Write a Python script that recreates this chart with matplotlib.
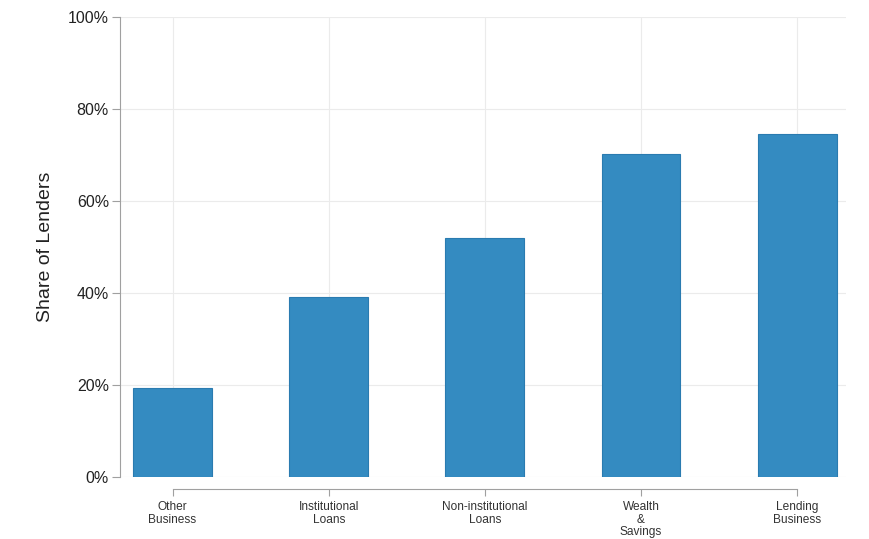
import numpy as np
import matplotlib.pyplot as plt
from matplotlib.ticker import PercentFormatter

plt.rcParams['font.family'] = ['Liberation Sans', 'DejaVu Sans']

# 数据
categories = ['Other\nBusiness', 'Institutional\nLoans', 'Non-institutional\nLoans',
              'Wealth\n&\nSavings', 'Lending\nBusiness']
shares = [0.193, 0.391, 0.520, 0.702, 0.745]
yticks = [0, 0.2, 0.4, 0.6, 0.8, 1.0]

fig = plt.figure(figsize=(8.7, 5.39), dpi=100)
ax = fig.add_axes([0.138, 0.115, 0.834, 0.853])

x = np.arange(len(categories))
ax.bar(x, shares, width=0.505, color='#348bc1', edgecolor='#2a7bb0', linewidth=0.8, zorder=3)

ax.set_xlim(-0.336, 4.31)
ax.set_ylim(0, 1.0)
ax.set_yticks(yticks)
ax.yaxis.set_major_formatter(PercentFormatter(1.0, decimals=0))
ax.set_xticks(x)
ax.set_xticklabels([''] * len(categories))

# 紧凑的多行类别标签（逐行绘制，行距更小）
trans = ax.get_xaxis_transform()
for xi, label in zip(x, categories):
    for k, line in enumerate(label.split('\n')):
        ax.annotate(line, xy=(xi, 0), xycoords=trans, xytext=(0, -21.8 - 9.0 * k),
                    textcoords='offset points', ha='center', va='center',
                    fontsize=8.6, color='#333333', annotation_clip=False)

ax.grid(True, color='#ebebeb', linewidth=0.8, zorder=0)
ax.set_axisbelow(True)

for s in ['top', 'right']:
    ax.spines[s].set_visible(False)
ax.spines['left'].set_color('#a0a0a0')
ax.spines['left'].set_bounds(0, 1.0)
ax.spines['bottom'].set_color('#a0a0a0')
ax.spines['bottom'].set_position(('outward', 8.5))
ax.spines['bottom'].set_bounds(0, 4)

ax.tick_params(axis='y', length=6, color='#a0a0a0', labelsize=11.5, labelcolor='#222222', pad=2)
ax.tick_params(axis='x', length=5, color='#a0a0a0', pad=4)

ax.set_ylabel('Share of Lenders', fontsize=14, color='#222222', labelpad=10)

plt.savefig('out.png', dpi=100)
